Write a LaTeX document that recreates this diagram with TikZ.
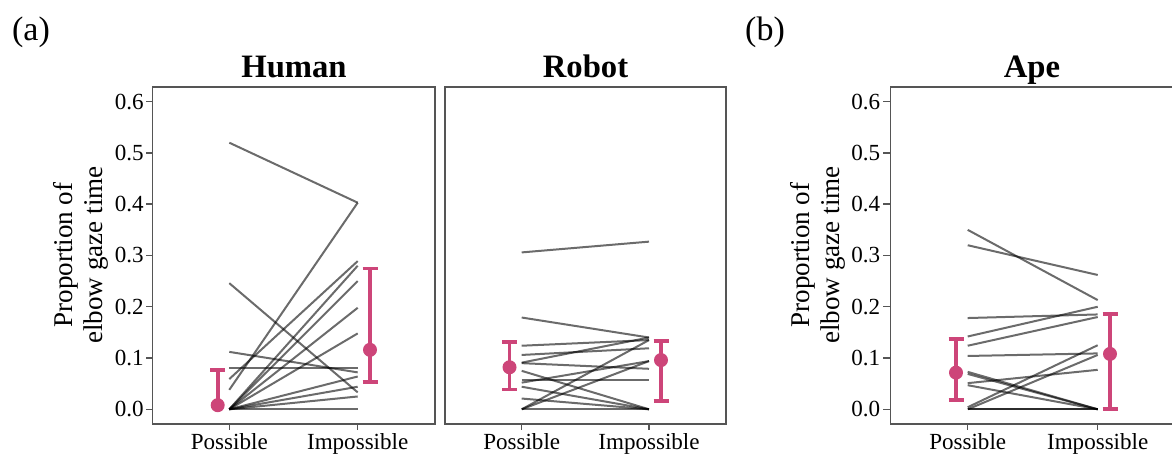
\documentclass[tikz,border=0pt]{standalone}
\usepackage{fontspec}
\setmainfont{Liberation Serif}
\definecolor{barpink}{RGB}{205,69,121}
\definecolor{framegray}{RGB}{85,85,85}
% value on the y axis -> vertical pixel position
\newcommand\valy[1]{409.3-512.7*(#1)}
\begin{document}
\begin{tikzpicture}[x=0.75pt,y=-0.75pt,
  panelframe/.style={draw=framegray, line width=1.1pt},
  axtick/.style={draw=framegray, line width=1.1pt},
  subj/.style={draw=black, draw opacity=0.58, line width=1.5pt},
  ci/.style={draw=barpink, line width=2.7pt},
  meandot/.style={circle, fill=barpink, inner sep=0pt, minimum size=10.5pt},
  ticklab/.style={font=\fontsize{17.3}{20}\selectfont, inner sep=0pt},
  axtitle/.style={font=\fontsize{20.3}{22.5}\selectfont, align=center, rotate=90, inner sep=0pt},
  paneltitle/.style={font=\bfseries\fontsize{24.5}{28}\selectfont, inner sep=0pt, anchor=base},
  panellabel/.style={font=\fontsize{25.5}{28}\selectfont, inner sep=0pt, anchor=base}]
\useasboundingbox (0,0) rectangle (1172,459);
\fill[white] (0,0) rectangle (1172,459);

% ---------- panel labels and titles ----------
\node[panellabel] (labA) at (31,41) {(a)};
\node[panellabel] (labB) at (765,41) {(b)};
\node[paneltitle] (tHuman) at (294,78) {Human};
\node[paneltitle] (tRobot) at (585.5,78) {Robot};
\node[paneltitle] (tApe) at (1032,78) {Ape};

% ---------- y axes ----------
\node[axtitle] (ytitleA) at (81,255) {Proportion of\\elbow gaze time};
\node[axtitle] (ytitleB) at (818,255) {Proportion of\\elbow gaze time};
\foreach \v in {0.0,0.1,0.2,0.3,0.4,0.5,0.6}{
  \draw[axtick] (146,{\valy{\v}}) -- (152.5,{\valy{\v}});
  \node[ticklab, anchor=east] at (144,{\valy{\v}}) {\v};
  \draw[axtick] (883,{\valy{\v}}) -- (890.5,{\valy{\v}});
  \node[ticklab, anchor=east] at (880.5,{\valy{\v}}) {\v};
}

% ---------- x axes ----------
\foreach \xp/\xi in {229.3/357.7, 521.7/649, 967.7/1097.7}{
  \draw[axtick] (\xp,424) -- (\xp,430);
  \draw[axtick] (\xi,424) -- (\xi,430);
  \node[ticklab, anchor=base] at (\xp,450) {Possible};
  \node[ticklab, anchor=base] at (\xi,450) {Impossible};
}

% ---------- Human: individual participants ----------
\foreach \a/\b in {0.52/0.403, 0.246/0.033, 0.112/0.072, 0.081/0.081,
                   0.059/0.289, 0.038/0.403, 0/0.28, 0/0.25, 0/0.198,
                   0/0.148, 0/0.064, 0/0.044, 0/0.025, 0/0}
  \draw[subj] (229.3,{\valy{\a}}) -- (357.7,{\valy{\b}});

% ---------- Robot: individual participants ----------
\foreach \a/\b in {0.306/0.327, 0.179/0.14, 0.124/0.135, 0.106/0.119,
                   0.091/0.14, 0.09/0.079, 0.075/0, 0.058/0.058,
                   0.052/0.094, 0.044/0, 0.021/0, 0/0.135, 0/0.094, 0/0}
  \draw[subj] (521.7,{\valy{\a}}) -- (649,{\valy{\b}});

% ---------- Ape: individual participants ----------
\foreach \a/\b in {0.35/0.213, 0.32/0.262, 0.178/0.185, 0.142/0.2,
                   0.124/0.18, 0.104/0.109, 0.073/0, 0.069/0,
                   0.051/0.077, 0.047/0, 0.004/0.125, 0/0.106, 0/0, 0/0}
  \draw[subj] (967.7,{\valy{\a}}) -- (1097.7,{\valy{\b}});

% ---------- means with intervals ----------
% Human, possible (interval drawn upwards from the mean)
\draw[ci] (217.7,{\valy{0.008}}) -- (217.7,{\valy{0.077}});
\draw[ci] (210.2,{\valy{0.077}}) -- (225.2,{\valy{0.077}});
\node[meandot] (mHP) at (217.7,{\valy{0.008}}) {};
% remaining groups: x / mean / low / high
\foreach \x/\m/\lo/\hi/\nm in {370/0.116/0.053/0.275/mHI,
                               509.5/0.082/0.039/0.131/mRP,
                               661/0.096/0.016/0.133/mRI,
                               956/0.0715/0.018/0.137/mAP,
                               1110/0.108/0/0.186/mAI}{
  \draw[ci] (\x,{\valy{\lo}}) -- (\x,{\valy{\hi}});
  \draw[ci] ({\x-7.5},{\valy{\lo}}) -- ({\x+7.5},{\valy{\lo}});
  \draw[ci] ({\x-7.5},{\valy{\hi}}) -- ({\x+7.5},{\valy{\hi}});
  \node[meandot] (\nm) at (\x,{\valy{\m}}) {};
}

% ---------- panel frames ----------
\draw[panelframe] (152.5,87) rectangle (435,424);
\draw[panelframe] (445,87) rectangle (726,424);
\draw[panelframe] (1173,87) -- (890.5,87) -- (890.5,424) -- (1173,424);
\end{tikzpicture}
\end{document}
